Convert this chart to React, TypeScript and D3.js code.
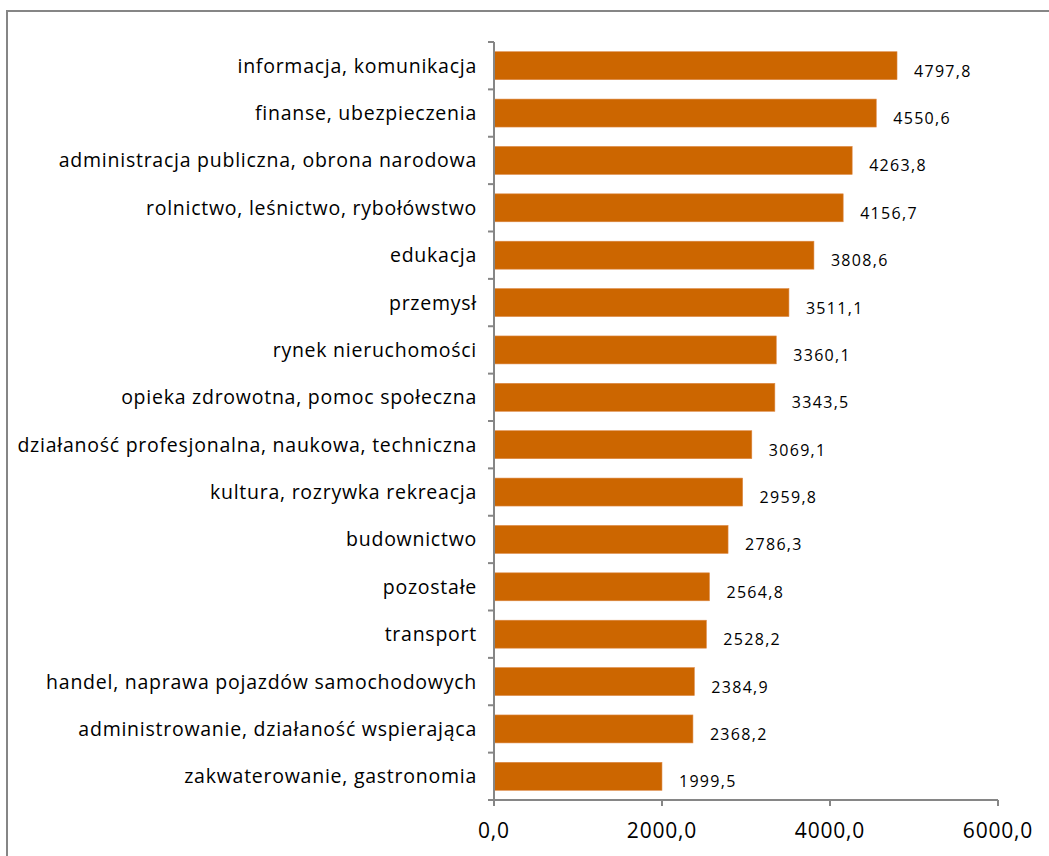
import React from "react";
import * as d3 from "d3";

const categories = [
  "informacja, komunikacja",
  "finanse, ubezpieczenia",
  "administracja publiczna, obrona narodowa",
  "rolnictwo, leśnictwo, rybołówstwo",
  "edukacja",
  "przemysł",
  "rynek nieruchomości",
  "opieka zdrowotna, pomoc społeczna",
  "działaność profesjonalna, naukowa, techniczna",
  "kultura, rozrywka rekreacja",
  "budownictwo",
  "pozostałe",
  "transport",
  "handel, naprawa pojazdów samochodowych",
  "administrowanie, działaność wspierająca",
  "zakwaterowanie, gastronomia",
];

const values = [
  4797.8, 4550.6, 4263.8, 4156.7, 3808.6, 3511.1, 3360.1, 3343.5, 3069.1,
  2959.8, 2786.3, 2564.8, 2528.2, 2384.9, 2368.2, 1999.5,
];

const xTicks = [0, 2000, 4000, 6000];

const W = 1049;
const H = 856;
const font = "'Open Sans', 'Noto Sans', sans-serif";
const axisColor = "#868686";

const fmt = (v: number) => v.toFixed(1).replace(".", ",");

export default function App() {
  const x = d3.scaleLinear().domain([0, 6000]).range([494, 998]);
  const y = d3
    .scaleBand<string>()
    .domain(categories)
    .range([42, 800])
    .paddingInner(0.41)
    .paddingOuter(0.205);
  const step = y.step();
  const top = 42;
  const bottom = 800;
  const x0 = x(0);

  return (
    <svg
      width={W}
      height={H}
      style={{ position: "absolute", left: 0, top: 0, background: "#fff" }}
    >
      <rect x={7} y={11} width={1100} height={900} fill="#fff" stroke={axisColor} strokeWidth={2} />

      {/* bars */}
      {categories.map((c, i) => (
        <g key={c}>
          <rect
            x={x0}
            y={y(c)}
            width={x(values[i]) - x0}
            height={y.bandwidth()}
            fill="#CC6600"
            stroke="#DD8844"
            strokeWidth={0.6}
          />
          <text
            x={x(values[i]) + 17}
            y={(y(c) as number) + y.bandwidth() / 2 + 11}
            fontFamily={font}
            fontSize={16}
            letterSpacing={1.3}
            fill="#000"
          >
            {fmt(values[i])}
          </text>
          <text
            x={477}
            y={(y(c) as number) + y.bandwidth() / 2 + 7}
            textAnchor="end"
            fontFamily={font}
            fontSize={19.5}
            letterSpacing={0.75}
            fill="#000"
          >
            {c}
          </text>
        </g>
      ))}

      {/* y axis */}
      <line x1={x0} x2={x0} y1={top} y2={bottom} stroke={axisColor} strokeWidth={2} />
      {d3.range(categories.length + 1).map((i) => (
        <line
          key={i}
          x1={x0 - 6}
          x2={x0}
          y1={top + i * step}
          y2={top + i * step}
          stroke={axisColor}
          strokeWidth={2}
        />
      ))}

      {/* x axis */}
      <line x1={x0 - 6} x2={x(6000)} y1={bottom} y2={bottom} stroke={axisColor} strokeWidth={2} />
      {xTicks.map((t) => (
        <g key={t}>
          <line x1={x(t)} x2={x(t)} y1={bottom} y2={bottom + 6} stroke={axisColor} strokeWidth={2} />
          <text
            x={x(t)}
            y={bottom + 38}
            textAnchor="middle"
            fontFamily={font}
            fontSize={21}
            letterSpacing={0.8}
            fill="#000"
          >
            {fmt(t)}
          </text>
        </g>
      ))}
    </svg>
  );
}
